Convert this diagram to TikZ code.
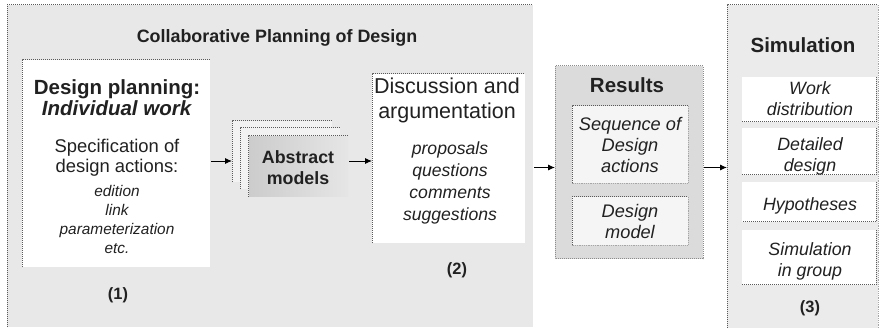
\documentclass[tikz,border=0pt]{standalone}
\usepackage{fontspec}
\setmainfont{Liberation Sans}
\usetikzlibrary{arrows.meta}

\definecolor{bg}{gray}{0.91}
\definecolor{resgray}{gray}{0.86}
\definecolor{simgray}{gray}{0.92}
\definecolor{ink}{gray}{0.13}
\newcommand\fs[2]{\fontsize{#1}{#2}\selectfont}

\tikzset{
  box/.style={inner sep=0pt, outer sep=0pt, anchor=north west},
  edge/.style={densely dotted, line width=1pt, draw=black!65},
  lightedge/.style={densely dotted, line width=0.8pt, draw=black!35},
  lbl/.style={inner sep=0pt, align=center, text=ink},
  head/.style={lbl, font=\bfseries\fs{20.5}{21}},
  item/.style={lbl, font=\itshape\fs{17.8}{21}},
  tag/.style={lbl, font=\bfseries\fs{16.4}{18}},
  arr/.style={-{Latex[length=7pt,width=6pt]}, line width=0.9pt, shorten <=1pt}
}

\begin{document}
\begin{tikzpicture}[x=1pt,y=-1pt]
        \useasboundingbox (0,0) rectangle (880,328);
        % collaborative planning frame
        \node[box, fill=bg, minimum width=526, minimum height=322] (collab) at (7,5) {};
        \draw[edge] (collab.south west) -- (collab.north west) -- (collab.north east);
        \node[lbl, font=\bfseries\fs{17.9}{20}] (title) at (277,38) {Collaborative Planning of Design};

        % (1) individual work
        \node[box, fill=white, minimum width=188, minimum height=207] (plan) at (22,60) {};
        \draw[edge] (plan.south west) -- (plan.north west) -- (plan.north east);
        \node[head] (planhead) at (117,98) {Design planning:\\\textit{Individual work}};
        \node[lbl, font=\fs{18.4}{20}] (spec) at (117,157.5) {Specification of\\design actions:};
        \node[lbl, font=\itshape\fs{15.4}{18.7}] (actions) at (117,219.5) {edition\\link\\parameterization\\etc.};
        \node[tag] (one) at (118,295) {(1)};

        % abstract models, stacked sheets
        \foreach \i/\x/\y in {0/232/121, 1/240/128, 2/248/136}{
            \node[box, fill=black!5, minimum width=100, minimum height=61] (abs\i) at (\x,\y) {};
            \draw[edge] (abs\i.south west) -- (abs\i.north west) -- (abs\i.north east);
        }
        \shade[left color=black!20, right color=black!10] ([xshift=1pt,yshift=-1pt]abs2.north west) rectangle (abs2.south east);
        \node[lbl, font=\bfseries\fs{17.8}{21}] (absmodels) at (298,167.5) {Abstract\\models};

        % (2) discussion
        \node[box, fill=white, minimum width=153, minimum height=169] (disc) at (372,74) {};
        \draw[edge] (disc.south west) -- (disc.north west) -- (disc.north east);
        \node[lbl, font=\fs{21.5}{25}] (dischead) at (447,100) {Discussion and\\argumentation};
        \node[lbl, font=\itshape\fs{17.6}{21.7}] (disclist) at (450,183) {proposals\\questions\\comments\\suggestions};
        \node[tag] (two) at (457,270) {(2)};

        % results
        \node[box, fill=resgray, minimum width=148, minimum height=193] (res) at (555,66) {};
        \draw[edge, draw=black!45] (res.north west) rectangle (res.south east);
        \node[head] (reshead) at (627,85) {Results};
        \node[box, fill=black!4, minimum width=116, minimum height=77] (seq) at (572,106) {};
        \node[box, fill=black!4, minimum width=116, minimum height=48] (model) at (572,197) {};
        \foreach \n in {seq, model}{
            \draw[lightedge] (\n.north east) -- (\n.south east) -- (\n.south west);
            \draw[edge] (\n.south west) -- (\n.north west) -- (\n.north east);
        }
        \node[lbl, font=\itshape\fs{18.2}{21}] (seqtxt) at (630,145) {Sequence of\\Design\\actions};
        \node[lbl, font=\itshape\fs{18.2}{21}] (modeltxt) at (630,221.5) {Design\\model};

        % (3) simulation
        \node[box, fill=simgray, minimum width=151, minimum height=323] (sim) at (727,5) {};
        \draw[edge] (sim.south west) -- (sim.north west) -- (sim.north east);
        \draw[lightedge] (sim.north east) -- (sim.south east);
        \node[head] (simhead) at (803,45) {Simulation};
        \foreach \n/\t/\h in {work/77/45, detail/128/47, hyp/182/40, group/230/55}{
            \node[box, fill=white, minimum width=134, minimum height=\h] (\n) at (742,\t) {};
            \draw[edge] (\n.north east) -- (\n.south east) -- (\n.south west);
        }
        \node[item] (worktxt) at (810,98.5) {Work\\distribution};
        \node[item] (detailtxt) at (810,156) {Detailed\\design};
        \node[item] (hyptxt) at (810,206) {Hypotheses};
        \node[item] (grouptxt) at (810,261) {Simulation\\in group};
        \node[tag] (three) at (810,308) {(3)};

        % flow arrows
        \coordinate (rowA) at (0,161);
        \coordinate (rowB) at (0,167.5);
        \draw[arr] (plan.east |- rowA) -- (abs0.west |- rowA);
        \draw[arr] (abs2.east |- rowA) -- (disc.west |- rowA);
        \draw[arr] (collab.east |- rowB) -- (res.west |- rowB);
        \draw[arr] (res.east |- rowB) -- (sim.west |- rowB);
    \end{tikzpicture}
\end{document}
